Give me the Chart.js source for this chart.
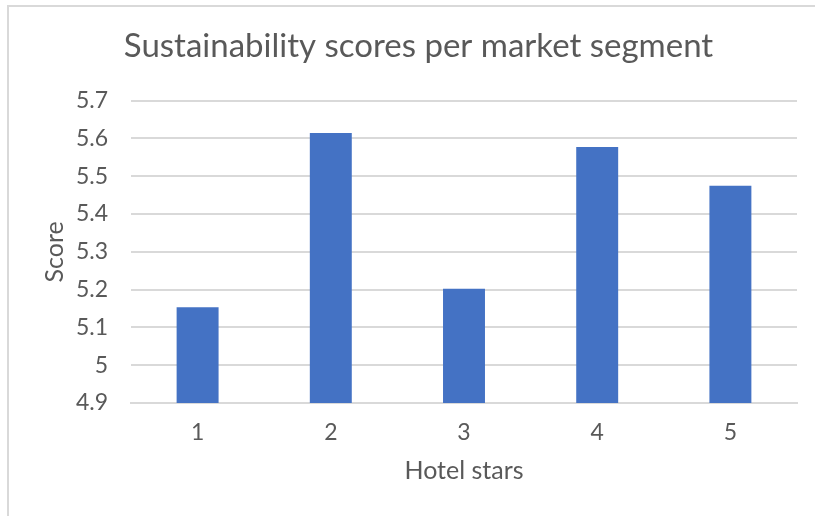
<!DOCTYPE html>
<html>
<head>
<meta charset="utf-8">
<title>Sustainability scores per market segment</title>
<script src="https://cdn.jsdelivr.net/npm/chart.js@4/dist/chart.umd.min.js"></script>
<style>
  html, body { margin: 0; padding: 0; background: #fff; }
  #wrap { position: relative; width: 815px; height: 516px; }
  #frame {
    position: absolute; left: 7px; top: 5px; right: 0; bottom: 0;
    border-top: 2px solid #d9d9d9; border-left: 2px solid #d9d9d9;
    pointer-events: none;
  }
  canvas { position: absolute; left: 0; top: 0; }
</style>
</head>
<body>
<div id="wrap">
  <canvas id="graficoScores" width="815" height="516"></canvas>
  <div id="frame"></div>
</div>
<script>
// score per hotel star category
var estrelas = ['1', '2', '3', '4', '5'];
var scores = [5.153, 5.614, 5.202, 5.577, 5.475];
var escalaMin = 4.9;
var escalaMax = 5.7;
var passo = 0.1;

var corTexto = '#595959';
var corGrade = '#d9d9d9';
var fonte = "Lato, sans-serif";

var ctx = document.getElementById('graficoScores').getContext('2d');

var grafico = new Chart(ctx, {
  type: 'bar',
  data: {
    labels: estrelas,
    datasets: [{
      label: 'Score',
      backgroundColor: '#4472c4',
      borderWidth: 0,
      barPercentage: 0.315,
      categoryPercentage: 1,
      data: scores
    }]
  },
  options: {
    responsive: false,
    animation: false,
    layout: { padding: { top: 27, left: 40, right: 18, bottom: 30 } },
    plugins: {
      legend: { display: false },
      tooltip: { enabled: false },
      title: {
        display: true,
        text: 'Sustainability scores per market segment',
        color: corTexto,
        font: { family: fonte, size: 33, weight: '400', lineHeight: 1.2 },
        padding: { top: 0, bottom: 34 }
      }
    },
    scales: {
      x: {
        afterFit: function(escala) { escala.height = 83; },
        grid: { display: false, drawTicks: false },
        border: { color: corGrade, width: 2 },
        ticks: { color: corTexto, font: { family: fonte, size: 23 }, padding: 16 },
        title: {
          display: true,
          text: 'Hotel stars',
          color: corTexto,
          font: { family: fonte, size: 25 },
          padding: { top: 0, bottom: 0 }
        }
      },
      y: {
        min: escalaMin,
        max: escalaMax,
        afterFit: function(escala) { escala.width = 91; },
        grid: { color: corGrade, lineWidth: 2, drawTicks: false },
        border: { display: false },
        ticks: {
          stepSize: passo,
          color: corTexto,
          font: { family: fonte, size: 23 },
          padding: 23,
          callback: function(v) { return String(Number(v.toFixed(1))); }
        },
        title: {
          display: true,
          text: 'Score',
          color: corTexto,
          font: { family: fonte, size: 25 },
          padding: { top: 0, bottom: 0 }
        }
      }
    }
  }
});
</script>
</body>
</html>
